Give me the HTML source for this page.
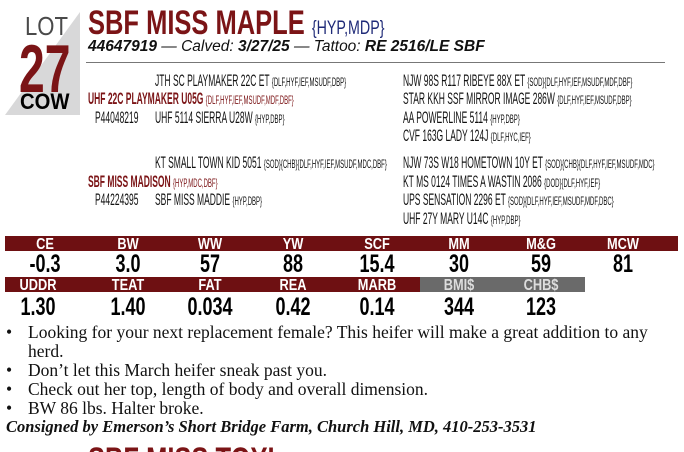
<!DOCTYPE html>
<html><head><meta charset="utf-8"><style>
html,body{margin:0;width:684px;height:452px;overflow:hidden}
body{background:#fff;position:relative;font-family:"Liberation Sans",sans-serif}
.a{position:absolute;white-space:nowrap}
.c{transform:scaleX(0.5);transform-origin:0 0}
.p{font-size:17px;color:#111;line-height:17px}
.p small{font-size:12px}
.r{color:#7b1416;font-weight:bold}
.lab{position:absolute;width:80px;text-align:center;color:#fff;font-weight:bold;font-size:16px;line-height:15px;transform:scaleX(0.8)}
.val{position:absolute;width:90px;text-align:center;color:#000;font-weight:bold;font-size:25px;line-height:22px;transform:scaleX(0.72)}
.s{font-family:"Liberation Serif",serif;font-size:17.5px;color:#111;line-height:19px}
</style></head><body>
<svg class="a" style="left:0;top:0" width="90" height="120"><polygon points="80,12 80,115 5,115" fill="#d8d8d9"/></svg>
<div class="a" style="left:25px;top:11px;font-size:26px;color:#4a4a4a;transform:scaleX(0.85);transform-origin:0 0">LOT</div>
<div class="a" style="left:19px;top:30px;font-size:68px;font-weight:bold;color:#7b1416;transform:scaleX(0.68);transform-origin:0 0">27</div>
<div class="a" style="left:20px;top:89px;font-size:22px;font-weight:bold;color:#000;transform:scaleX(0.92);transform-origin:0 0">COW</div>
<div class="a" style="left:88px;top:4px;font-size:34px;font-weight:bold;color:#7b1416;transform:scaleX(0.75);transform-origin:0 0">SBF MISS MAPLE <span style="font-weight:normal;font-size:19px;color:#1f2a78">{HYP,MDP}</span></div>
<div class="a" style="left:88px;top:38px;font-size:15.5px;font-style:italic;color:#111"><b>44647919</b> — Calved: <b>3/27/25</b> — Tattoo: <b>RE 2516/LE SBF</b></div>
<div class="a" style="left:86px;top:62px;width:579px;height:1px;background:#777"></div>

<div class="a c p" style="left:155px;top:72px">JTH SC PLAYMAKER 22C ET <small>{DLF,HYF,IEF,MSUDF,DBP}</small></div>
<div class="a c p r" style="left:88px;top:90px">UHF 22C PLAYMAKER U05G <small style="font-weight:normal">{DLF,HYF,IEF,MSUDF,MDF,DBF}</small></div>
<div class="a c p" style="left:95px;top:109px">P44048219</div>
<div class="a c p" style="left:155px;top:109px">UHF 5114 SIERRA U28W <small>{HYP,DBP}</small></div>
<div class="a c p" style="left:155px;top:154px">KT SMALL TOWN KID 5051 <small>{SOD}{CHB}{DLF,HYF,IEF,MSUDF,MDC,DBF}</small></div>
<div class="a c p r" style="left:88px;top:173px">SBF MISS MADISON <small style="font-weight:normal">{HYP,MDC,DBF}</small></div>
<div class="a c p" style="left:95px;top:191px">P44224395</div>
<div class="a c p" style="left:155px;top:191px">SBF MISS MADDIE <small>{HYP,DBP}</small></div>

<div class="a c p" style="left:403px;top:72px">NJW 98S R117 RIBEYE 88X ET <small>{SOD}{DLF,HYF,IEF,MSUDF,MDF,DBF}</small></div>
<div class="a c p" style="left:403px;top:90px">STAR KKH SSF MIRROR IMAGE 286W <small>{DLF,HYF,IEF,MSUDF,DBP}</small></div>
<div class="a c p" style="left:403px;top:109px">AA POWERLINE 5114 <small>{HYP,DBP}</small></div>
<div class="a c p" style="left:403px;top:127px">CVF 163G LADY 124J <small>{DLF,HYC,IEF}</small></div>
<div class="a c p" style="left:403px;top:154px">NJW 73S W18 HOMETOWN 10Y ET <small>{SOD}{CHB}{DLF,HYF,IEF,MSUDF,MDC}</small></div>
<div class="a c p" style="left:403px;top:173px">KT MS 0124 TIMES A WASTIN 2086 <small>{DOD}{DLF,HYF,IEF}</small></div>
<div class="a c p" style="left:403px;top:191px">UPS SENSATION 2296 ET <small>{SOD}{DLF,HYF,IEF,MSUDF,MDF,DBC}</small></div>
<div class="a c p" style="left:403px;top:210px">UHF 27Y MARY U14C <small>{HYP,DBP}</small></div>

<div class="a" style="left:5px;top:236px;width:673px;height:15px;background:#6e1012"></div>
<div class="a" style="left:5px;top:277px;width:415px;height:15px;background:#6e1012"></div>
<div class="a" style="left:420px;top:277px;width:165px;height:15px;background:#6a6a6a"></div>

<div class="lab" style="left:5px;top:237px">CE</div>
<div class="lab" style="left:88px;top:237px">BW</div>
<div class="lab" style="left:170px;top:237px">WW</div>
<div class="lab" style="left:253px;top:237px">YW</div>
<div class="lab" style="left:337px;top:237px">SCF</div>
<div class="lab" style="left:419px;top:237px">MM</div>
<div class="lab" style="left:501px;top:237px">M&amp;G</div>
<div class="lab" style="left:583px;top:237px">MCW</div>
<div class="val" style="left:0px;top:253px">-0.3</div>
<div class="val" style="left:83px;top:253px">3.0</div>
<div class="val" style="left:165px;top:253px">57</div>
<div class="val" style="left:248px;top:253px">88</div>
<div class="val" style="left:332px;top:253px">15.4</div>
<div class="val" style="left:414px;top:253px">30</div>
<div class="val" style="left:496px;top:253px">59</div>
<div class="val" style="left:578px;top:253px">81</div>

<div class="lab" style="left:-2px;top:278px">UDDR</div>
<div class="lab" style="left:88px;top:278px">TEAT</div>
<div class="lab" style="left:170px;top:278px">FAT</div>
<div class="lab" style="left:253px;top:278px">REA</div>
<div class="lab" style="left:337px;top:278px">MARB</div>
<div class="lab" style="left:419px;top:278px;color:#ddd">BMI$</div>
<div class="lab" style="left:501px;top:278px;color:#ddd">CHB$</div>
<div class="val" style="left:-7px;top:296px">1.30</div>
<div class="val" style="left:83px;top:296px">1.40</div>
<div class="val" style="left:165px;top:296px">0.034</div>
<div class="val" style="left:248px;top:296px">0.42</div>
<div class="val" style="left:332px;top:296px">0.14</div>
<div class="val" style="left:414px;top:296px">344</div>
<div class="val" style="left:496px;top:296px">123</div>

<div class="a s" style="left:6px;top:323px">•</div><div class="a s" style="left:28px;top:323px">Looking for your next replacement female? This heifer will make a great addition to any</div>
<div class="a s" style="left:28px;top:342px">herd.</div>
<div class="a s" style="left:6px;top:361px">•</div><div class="a s" style="left:28px;top:361px">Don’t let this March heifer sneak past you.</div>
<div class="a s" style="left:6px;top:380px">•</div><div class="a s" style="left:28px;top:380px">Check out her top, length of body and overall dimension.</div>
<div class="a s" style="left:6px;top:399px">•</div><div class="a s" style="left:28px;top:399px">BW 86 lbs. Halter broke.</div>
<div class="a s" style="left:6px;top:417px;font-weight:bold;font-style:italic;font-size:16.5px">Consigned by Emerson’s Short Bridge Farm, Church Hill, MD, 410-253-3531</div>
<div class="a" style="left:0;top:441px;width:684px;height:11px;overflow:hidden">
<div class="a" style="left:88px;top:0;font-size:34px;font-weight:bold;color:#7b1416;transform:scaleX(0.75);transform-origin:0 0">SBF MISS TOYI</div>
</div>
</body></html>
